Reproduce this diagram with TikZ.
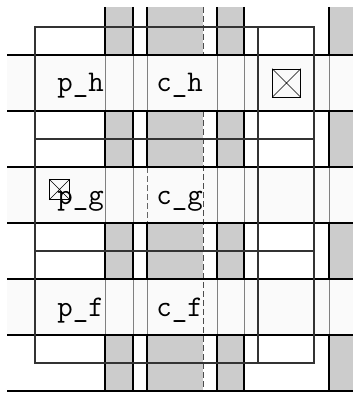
\documentclass[tikz,border=0pt]{standalone}
\usepackage{fontspec}
\begin{document}
\begin{tikzpicture}[x=1pt, y=-1pt,
    every node/.style={font=\ttfamily\fontsize{30}{30}\selectfont, inner sep=0pt},
    bar/.style={fill=black!20},
    band/.style={fill=black!2},
    heavy/.style={black, line width=1.2pt},
    faint/.style={black!50, line width=0.8pt},
    frame/.style={black!80, line width=1.1pt},
    cut/.style={black!70, line width=0.9pt, dash pattern=on 6pt off 3pt},
    xbox/.style={draw, black, line width=0.6pt, minimum size=#1}]
    \useasboundingbox (0,0) rectangle (353,396);
    % grey columns
    \foreach \a/\b in {105/133, 147/203, 217/244, 329/353}
        \fill[bar] (\a,7) rectangle (\b,391);
    % label rows
    \foreach \t in {55, 167, 279}
        \fill[band] (7,\t) rectangle (353,\t+56);
    % column lines
    \foreach \t/\b in {7/55, 111/167, 223/279, 335/391}
        \foreach \x in {105, 133, 147, 217, 244, 329}
            \draw[heavy] (\x,\t) -- (\x,\b);
    \foreach \t in {55, 167, 279}
        \foreach \x in {105, 133, 217, 244, 329}
            \draw[faint] (\x,\t) -- (\x,\t+56);
    \draw[faint] (147,55) -- (147,111) (147,279) -- (147,335);
    \draw[cut, black!60] (147,167) -- (147,223);
    \draw[cut] (203,7) -- (203,55) (203,111) -- (203,391);
    % rows
    \foreach \t in {55, 111, 167, 223, 279, 335, 391}
        \draw[heavy] (7,\t) -- (353,\t);
    % frame
    \draw[frame] (35,27) rectangle (314,363);
    \draw[frame] (35,139) -- (314,139) (35,251) -- (314,251);
    \draw[frame] (258,27) -- (258,363);
    % labels
    \node[anchor=base east] (ph) at (104,92) {p\_h};
    \node[anchor=base east] (ch) at (203,92) {c\_h};
    \node[anchor=base east] (pg) at (104,204) {p\_g};
    \node[anchor=base east] (cg) at (203,204) {c\_g};
    \node[anchor=base east] (pf) at (104,316) {p\_f};
    \node[anchor=base east] (cf) at (203,316) {c\_f};
    % crossed boxes
    \node[xbox=28pt] (xh) at (286.5,83) {};
    \draw[line width=0.6pt] (xh.north west) -- (xh.south east) (xh.north east) -- (xh.south west);
    \node[xbox=20pt] (xg) at (59.5,189.5) {};
    \draw[line width=0.6pt] (xg.north west) -- (xg.south east) (xg.north east) -- (xg.south west);
\end{tikzpicture}
\end{document}
